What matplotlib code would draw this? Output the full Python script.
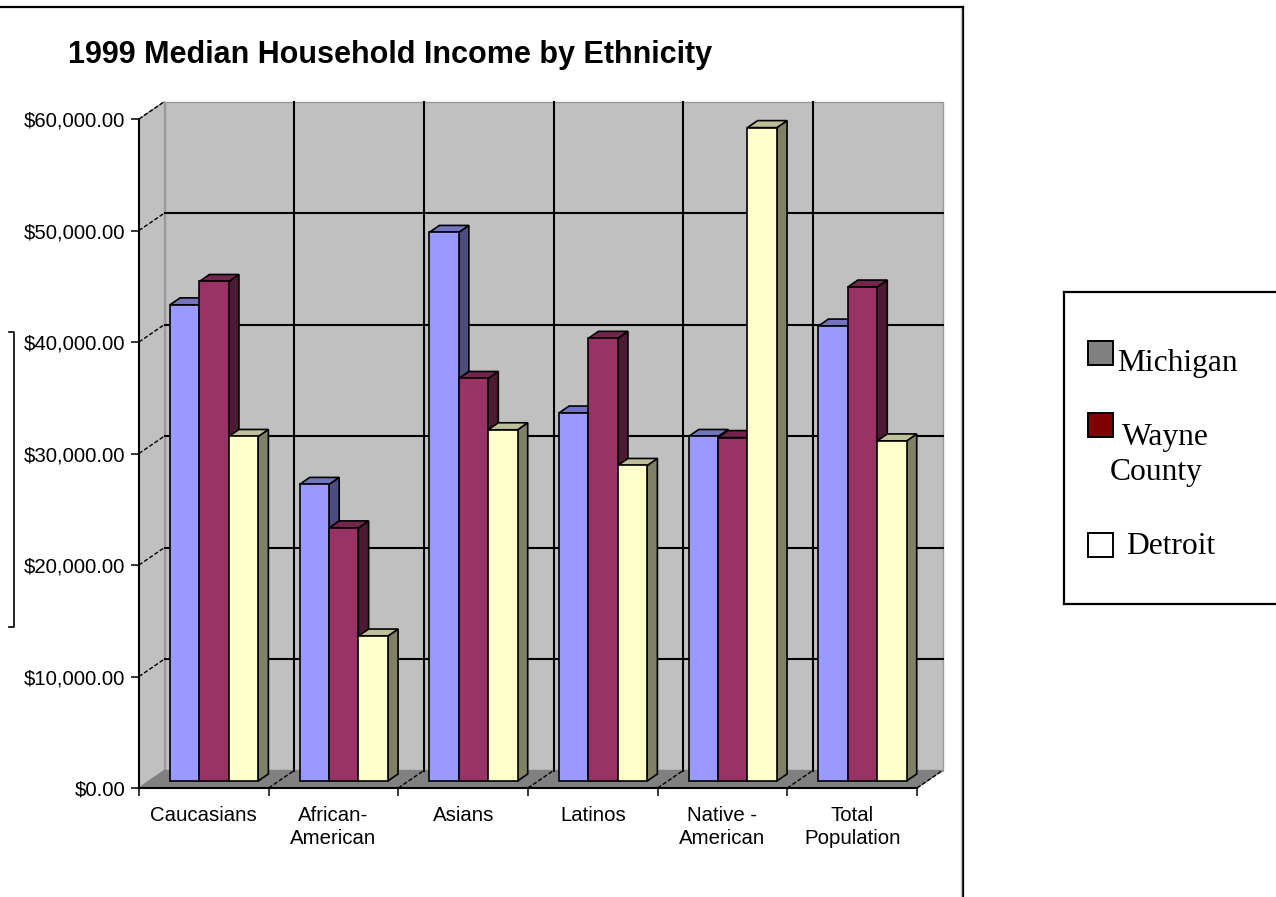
import numpy as np
import matplotlib
matplotlib.use("Agg")
import matplotlib.pyplot as plt
from matplotlib.patches import Polygon, Rectangle
from matplotlib.lines import Line2D
from matplotlib.ticker import FuncFormatter

plt.rcParams["font.family"] = ["Liberation Sans", "DejaVu Sans"]
plt.rcParams["text.parse_math"] = False

# ── data ──────────────────────────────────────────────────────────────
categories = ["Caucasians", "African-\nAmerican", "Asians", "Latinos",
              "Native -\nAmerican", "Total\nPopulation"]
series_names = ["Michigan", "Wayne County", "Detroit"]
michigan = [42700, 26600, 49200, 33000, 30900, 40800]
wayne = [44800, 22700, 36100, 39700, 30800, 44300]
detroit = [30900, 13000, 31500, 28300, 58600, 30500]
y_ticks = [0, 10000, 20000, 30000, 40000, 50000, 60000]

bar_colors = ["#9999FF", "#993366", "#FFFFCC"]
legend_colors = ["#808080", "#800000", "#FFFFFF"]

values = [michigan, wayne, detroit]

# ── figure ────────────────────────────────────────────────────────────
W, H = 1276, 897
fig = plt.figure(figsize=(W / 100, H / 100), dpi=100)
fig.patch.set_facecolor("white")


def fx(px):
    return px / W


def fy(py):
    return 1 - py / H


ax = fig.add_axes([fx(139), fy(788), 778 / W, 669 / H])
n = len(categories)
ymax = y_ticks[-1]
ax.set_xlim(0, n)
ax.set_ylim(0, ymax)
ax.patch.set_visible(False)

DEPTH = (25.5, 17.5)  # wall depth in pixels (right, up)


def shift(x, y, frac):
    """push a data point back into the chart depth by frac of the wall depth"""
    px, py = ax.transData.transform((x, y))
    return tuple(ax.transData.inverted().transform(
        (px + frac * DEPTH[0], py + frac * DEPTH[1])))


def poly(pts, fc, ec, lw=1.0, z=1):
    ax.add_patch(Polygon(pts, closed=True, fc=fc, ec=ec, lw=lw,
                         zorder=z, clip_on=False))


def seg(p0, p1, **kw):
    ax.plot([p0[0], p1[0]], [p0[1], p1[1]], clip_on=False, **kw)


# walls and floor
poly([shift(0, 0, 1), shift(n, 0, 1), shift(n, ymax, 1), shift(0, ymax, 1)],
     "#C0C0C0", "#9A9A9A")
poly([(0, 0), (0, ymax), shift(0, ymax, 1), shift(0, 0, 1)],
     "#C0C0C0", "#9A9A9A")
poly([(0, 0), (n, 0), shift(n, 0, 1), shift(0, 0, 1)],
     "#808080", "#808080")

for v in y_ticks[1:-1]:
    seg(shift(0, v, 1), shift(n, v, 1), color="black", lw=1.5, zorder=2)
for c in range(1, n):
    seg(shift(c, 0, 1), shift(c, ymax, 1), color="black", lw=1.5, zorder=2)
for v in y_ticks[1:]:
    seg((0, v), shift(0, v, 1), color="black", lw=1.0,
        ls=(0, (3, 1.5)), zorder=2)
for c in range(1, n + 1):
    seg((c, 0), shift(c, 0, 1), color="black", lw=1.0,
        ls=(0, (3, 1.5)), zorder=2)

# bars (front face at 0.4 depth, back at 0.8)
bw = 0.227
for i in range(n):
    for j, vals in enumerate(values):
        h = vals[i]
        x0 = i + 0.5 + (j - 1.5) * bw
        x1 = x0 + bw
        base = np.array(matplotlib.colors.to_rgb(bar_colors[j]))
        poly([shift(x1, 0, .4), shift(x1, 0, .8), shift(x1, h, .8),
              shift(x1, h, .4)], base * 0.5, "black", 1.2, 3)
        poly([shift(x0, h, .4), shift(x1, h, .4), shift(x1, h, .8),
              shift(x0, h, .8)], base * 0.75, "black", 1.2, 3)
        poly([shift(x0, 0, .4), shift(x1, 0, .4), shift(x1, h, .4),
              shift(x0, h, .4)], base, "black", 1.2, 3)

# axes
for s in ["top", "right"]:
    ax.spines[s].set_visible(False)
for s in ["left", "bottom"]:
    ax.spines[s].set_color("black")
    ax.spines[s].set_linewidth(1.5)
    ax.spines[s].set_zorder(4)

ax.set_yticks(y_ticks)
ax.yaxis.set_major_formatter(FuncFormatter(lambda v, _: f"${v:,.2f}"))
ax.tick_params(axis="y", length=5.8, width=1.1, pad=4, labelsize=14.7,
               colors="black")
ax.set_xticks(range(n + 1))
ax.set_xticklabels([])
ax.tick_params(axis="x", which="major", length=5.8, width=1.1)
ax.set_xticks(np.arange(n) + 0.5, minor=True)
ax.set_xticklabels(categories, minor=True)
ax.tick_params(axis="x", which="minor", length=0, pad=13, labelsize=14.7)
for t in ax.get_xticklabels(minor=True):
    t.set_linespacing(1.25)

fig.text(fx(68), fy(55), "1999 Median Household Income by Ethnicity",
         ha="left", va="center", fontsize=22, fontweight="bold")

# page frame lines and stray bracket
fig.add_artist(Line2D([0, fx(963)], [fy(7), fy(7)], transform=fig.transFigure,
                      color="black", lw=1.6))
fig.add_artist(Line2D([fx(963), fx(963)], [fy(7), 0], transform=fig.transFigure,
                      color="black", lw=1.6))
fig.add_artist(Line2D([fx(961), fx(961)], [fy(9), 0], transform=fig.transFigure,
                      color="#C8C8C8", lw=1.0))
fig.add_artist(Line2D([fx(9), fx(14), fx(14), fx(9)],
                      [fy(332), fy(332), fy(627), fy(627)],
                      transform=fig.transFigure, color="black", lw=1.2))

# ── legend box ────────────────────────────────────────────────────────
lax = fig.add_axes([fx(1064), fy(604), (W - 1064) / W, 312 / H])
lax.set_xlim(0, W - 1064)
lax.set_ylim(312, 0)
lax.set_xticks([])
lax.set_yticks([])
lax.spines["right"].set_visible(False)
for s in ["left", "top", "bottom"]:
    lax.spines[s].set_linewidth(1.6)
    lax.spines[s].set_color("black")

box_tops = [49, 121, 241]
text_lines = [[("Michigan", 53, 79)],
              [("Wayne", 58, 153), ("County", 46, 188)],
              [("Detroit", 62, 262)]]
for k, name in enumerate(series_names):
    lax.add_patch(Rectangle((24, box_tops[k]), 25, 24, fc=legend_colors[k],
                            ec="black", lw=1.4))
    for txt, tx, ty in text_lines[k]:
        lax.text(tx, ty, txt, ha="left", va="baseline", fontsize=22.7,
                 family=["Liberation Serif", "DejaVu Serif"])

fig.savefig("out.png", dpi=100)
